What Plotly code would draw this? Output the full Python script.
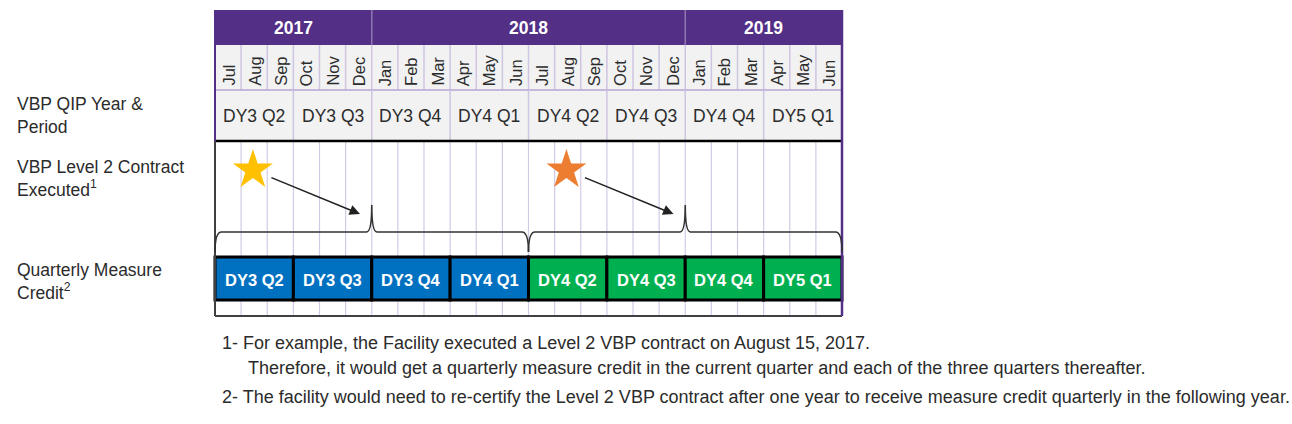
import plotly.graph_objects as go

# ---------------- data ----------------
years = ["2017", "2018", "2019"]
months_per_year = [6, 12, 6]
months = ["Jul", "Aug", "Sep", "Oct", "Nov", "Dec",
          "Jan", "Feb", "Mar", "Apr", "May", "Jun",
          "Jul", "Aug", "Sep", "Oct", "Nov", "Dec",
          "Jan", "Feb", "Mar", "Apr", "May", "Jun"]
qip_periods = ["DY3 Q2", "DY3 Q3", "DY3 Q4", "DY4 Q1",
               "DY4 Q2", "DY4 Q3", "DY4 Q4", "DY5 Q1"]
credit_quarters = ["DY3 Q2", "DY3 Q3", "DY3 Q4", "DY4 Q1",
                   "DY4 Q2", "DY4 Q3", "DY4 Q4", "DY5 Q1"]
credit_contract = [0, 0, 0, 0, 1, 1, 1, 1]       # which contract gives the credit
contract_month_index = [1, 13]                   # Aug 2017, Aug 2018
contract_day = [15, 15]
contract_colors = ["#FFC000", "#ED7D31"]
credit_colors = ["#0070C0", "#00B050"]
row_labels = ["VBP QIP Year &<br>Period",
              "VBP Level 2 Contract<br>Executed<sup>1</sup>",
              "Quarterly Measure<br>Credit<sup>2</sup>"]
footnotes = ["1- For example, the Facility executed a Level 2 VBP contract on August 15, 2017.",
             "Therefore, it would get a quarterly measure credit in the current quarter and each of the three quarters thereafter.",
             "2- The facility would need to re-certify the Level 2 VBP contract after one year to receive measure credit quarterly in the following year."]

# ---------------- layout constants ----------------
W, H = 1292, 424
X0PX, X1PX = 215, 842
NM = len(months)
ppm = (X1PX - X0PX) / NM
xr = [-X0PX / ppm, (W - X0PX) / ppm]

Y_TOP, Y_YEAR, Y_MON, Y_Q, Y_BAR0, Y_BAR1, Y_BOT = 10, 45, 90, 141, 257, 300, 316
PURPLE = "#532F86"
GRID = "#D3CAE6"
LBL = "#2B2B2B"
FONT = "Liberation Sans, Arial, sans-serif"

shapes = []
ann = []

def rect(x0, x1, y0, y1, fill, lw=0, lc="rgba(0,0,0,0)"):
    shapes.append(dict(type="rect", xref="x", yref="y", x0=x0, x1=x1, y0=y0, y1=y1,
                       fillcolor=fill, line=dict(width=lw, color=lc), layer="below"))

def line(x0, x1, y0, y1, color, w=1):
    shapes.append(dict(type="line", xref="x", yref="y", x0=x0, x1=x1, y0=y0, y1=y1,
                       line=dict(color=color, width=w), layer="below"))

# backgrounds
rect(0, NM, Y_TOP, Y_YEAR, PURPLE)
rect(0, NM, Y_YEAR, Y_Q, "#F2F2F2")

# year header
start = 0
for y, n in zip(years, months_per_year):
    ann.append(dict(x=start + n / 2, y=(Y_TOP + Y_YEAR) / 2, text="<b>%s</b>" % y,
                    showarrow=False, font=dict(color="white", size=17.5, family=FONT)))
    if start > 0:
        line(start, start, Y_TOP, Y_YEAR, "#8D77B3", 1.5)
    start += n

# months
for i, m in enumerate(months):
    ann.append(dict(x=i + 0.5, y=Y_MON - 2, text=m, textangle=-90, showarrow=False,
                    yanchor="bottom", xanchor="center",
                    font=dict(color=LBL, size=16.5, family=FONT)))
for i in range(1, NM):
    line(i, i, Y_YEAR, Y_MON, "#CFC4E2", 1.5)
line(0, NM, Y_MON, Y_MON, "#B5A6D2", 1.5)

# QIP period row
for q, p in enumerate(qip_periods):
    ann.append(dict(x=q * 3 + 1.5, y=(Y_MON + Y_Q) / 2, text=p, showarrow=False,
                    font=dict(color=LBL, size=17.5, family=FONT)))
    if q > 0:
        line(q * 3, q * 3, Y_MON, Y_Q, "#CFC4E2", 1.5)

# grid in lower area
for i in range(1, NM):
    line(i, i, Y_Q, Y_BOT, GRID, 1.2)

# credit bars
for q, (c, k) in enumerate(zip(credit_quarters, credit_contract)):
    rect(q * 3, q * 3 + 3, Y_BAR0, Y_BAR1, credit_colors[k], 3, "black")
    ann.append(dict(x=q * 3 + 1.5, y=(Y_BAR0 + Y_BAR1) / 2 + 1, text="<b>%s</b>" % c,
                    showarrow=False, font=dict(color="white", size=16.5, family=FONT)))

# borders
line(0, NM, Y_Q, Y_Q, "black", 2.5)
line(0, NM, Y_BOT, Y_BOT, "#404040", 2)
line(0, 0, Y_TOP, Y_Q, PURPLE, 2)
line(0, 0, Y_Q, Y_BOT, "#404040", 2)
line(NM, NM, Y_TOP, Y_BOT, PURPLE, 2.5)

# braces + arrows for each contract
fig = go.Figure()
for k, (mi, d) in enumerate(zip(contract_month_index, contract_day)):
    xs = mi + (d - 1) / 31
    x0 = k * 12
    x1 = x0 + 12
    pk = (x0 + x1) / 2
    yb, ye, yp = 232, 252, 205
    path = (f"M {x0},{ye} Q {x0},{yb} {x0+0.25},{yb} L {pk-0.2},{yb} "
            f"Q {pk},{yb} {pk},{yp} Q {pk},{yb} {pk+0.2},{yb} "
            f"L {x1-0.25},{yb} Q {x1},{yb} {x1},{ye}")
    shapes.append(dict(type="path", xref="x", yref="y", path=path,
                       line=dict(color="#333333", width=1.6), layer="below"))
    ann.append(dict(x=pk - 0.45, y=214, ax=xs + 0.65, ay=177, axref="x", ayref="y",
                    xref="x", yref="y", text="", showarrow=True, arrowhead=2,
                    arrowsize=1.3, arrowwidth=1.6, arrowcolor="#222222"))
    fig.add_trace(go.Scatter(x=[xs], y=[170], mode="markers",
                             marker=dict(symbol="star", size=30, color=contract_colors[k],
                                         line=dict(width=0)),
                             hoverinfo="skip", showlegend=False))

# row labels (left)
for txt, yy in zip(row_labels, [115, 178, 281]):
    ann.append(dict(xref="paper", x=15 / W, y=yy, xanchor="left", yanchor="middle",
                    text=txt, showarrow=False, align="left",
                    font=dict(color=LBL, size=17.5, family=FONT)))

# footnotes
for txt, (xx, yy) in zip(footnotes, [(220, 343), (246, 368), (220, 397)]):
    ann.append(dict(xref="paper", x=xx / W, y=yy, xanchor="left", yanchor="middle",
                    text=txt, showarrow=False, align="left",
                    font=dict(color=LBL, size=18, family=FONT)))

fig.update_layout(width=W, height=H, margin=dict(l=0, r=0, t=0, b=0),
                  paper_bgcolor="white", plot_bgcolor="white",
                  xaxis=dict(range=xr, visible=False, fixedrange=True),
                  yaxis=dict(range=[H, 0], visible=False, fixedrange=True),
                  shapes=shapes, annotations=ann, showlegend=False)
fig.write_html("out.html", post_script="document.body.style.margin='0';",
               config={"displayModeBar": False})
